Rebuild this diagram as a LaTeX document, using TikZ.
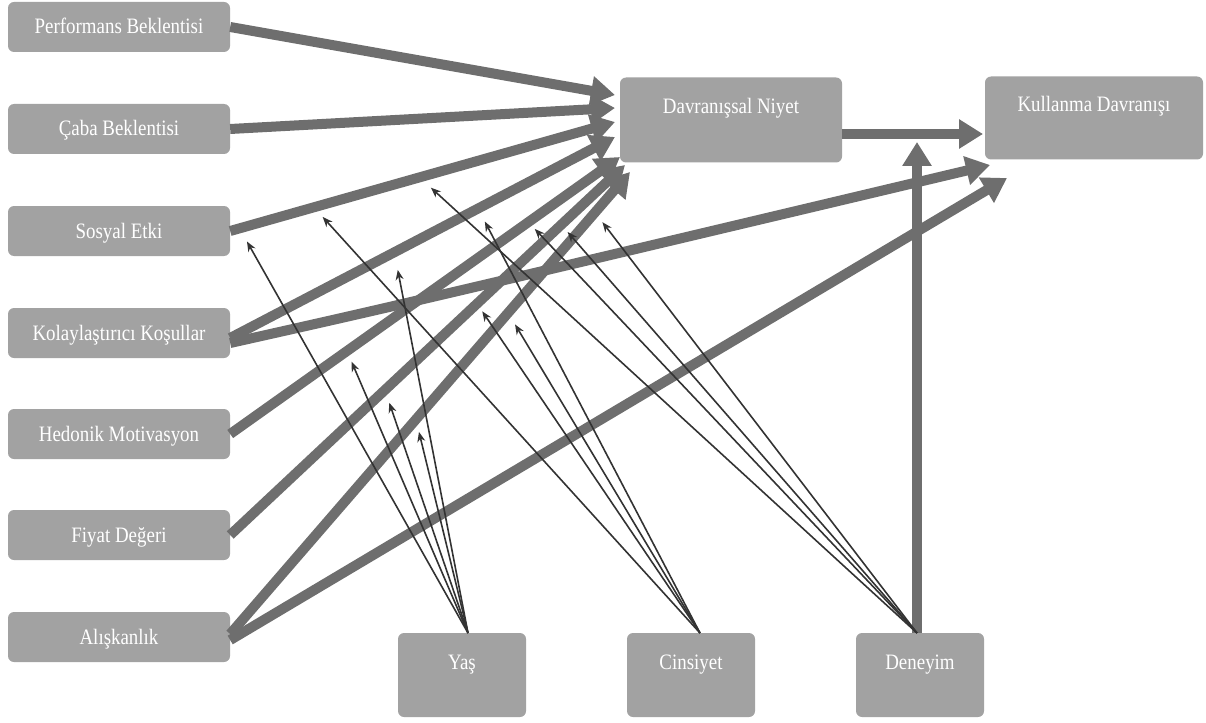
\documentclass[tikz,border=0pt]{standalone}
\usepackage{fontspec}
\newfontfamily\lab[FakeStretch=0.86]{Liberation Serif}
\usetikzlibrary{arrows.meta,calc}
\definecolor{boxgray}{HTML}{A2A2A2}
\definecolor{arrgray}{HTML}{6E6E6E}
\definecolor{thin}{HTML}{333333}
\begin{document}
\begin{tikzpicture}[x=1pt,y=-1pt,
  box/.style={draw=none,fill=boxgray,rounded corners=6pt,text=white,font=\lab\fontsize{22}{24}\selectfont,inner sep=0pt},
  lbox/.style={box,minimum width=222pt,minimum height=50pt,text height=15pt,text depth=1pt},
  hbox/.style={box,text height=15pt,text depth=27pt},
  bbox/.style={hbox,minimum width=128pt,minimum height=84pt},
  big/.style={draw=arrgray,line width=10pt,-{Triangle[length=24pt,width=28pt]},arrgray},
  mod/.style={draw=thin,line width=1.6pt,-{Stealth[length=10pt,width=8pt]},shorten >=4pt}]
\useasboundingbox (0,0) rectangle (1206,722);
% nodes
\node[lbox] (pb) at (119,27) {Performans Beklentisi};
\node[lbox] (cb) at (119,129) {Çaba Beklentisi};
\node[lbox] (se) at (119,231) {Sosyal Etki};
\node[lbox] (kk) at (119,333) {Kolaylaştırıcı Koşullar};
\node[lbox] (hm) at (119,434) {Hedonik Motivasyon};
\node[lbox] (fd) at (119,535) {Fiyat Değeri};
\node[lbox] (al) at (119,637) {Alışkanlık};
\node[hbox,minimum width=222pt,minimum height=85pt] (dn) at (731,120) {Davranışsal Niyet};
\node[hbox,minimum width=218pt,minimum height=83pt] (kd) at (1094,118) {Kullanma Davranışı};
\node[bbox] (yas) at (462,675) {Yaş};
\node[bbox] (cin) at (691,675) {Cinsiyet};
\node[bbox] (den) at (920,675) {Deneyim};
% tips
\coordinate (tpb) at (615,95);
\coordinate (tcb) at (615,108);
\coordinate (tse) at (615,122);
\coordinate (tkk) at (615,137);
\coordinate (thm) at (620,157);
\coordinate (tfd) at (625,165);
\coordinate (tal) at (630,172);
\coordinate (tkk2) at (990,165);
\coordinate (tal2) at (1007,178);
\coordinate (tden) at (917,142);
\coordinate (tdn) at (983,134);
% moderator sources
\coordinate (ys) at (468,633);
\coordinate (cs) at (700,633);
\coordinate (ds) at (917,633);
% thick arrows
\draw[big] (pb.east) -- (tpb);
\draw[big] (cb.east) -- (tcb);
\draw[big] (se.east) -- (tse);
\draw[big] ($(kk.east)+(0,5)$) -- (tkk);
\draw[big] ($(kk.east)+(0,10)$) .. controls (400,305) .. (tkk2);
\draw[big] (hm.east) -- (thm);
\draw[big] (fd.east) -- (tfd);
\draw[big] ($(al.east)+(0,-3)$) -- (tal);
\draw[big] ($(al.east)+(0,3)$) -- (tal2);
\draw[big] ($(dn.east)+(0,14)$) -- (tdn);
\draw[big] (ds) -- (tden);
% moderator points
\coordinate (m1) at (245,238);
\coordinate (m2) at (320,214);
\coordinate (m3) at (428,185);
\coordinate (m4) at (397,266);
\coordinate (m5) at (483,218);
\coordinate (m6) at (532,226);
\coordinate (m7) at (565,229);
\coordinate (m8) at (600,219);
\coordinate (m9) at (480,308);
\coordinate (m10) at (513,321);
\coordinate (m11) at (350,358);
\coordinate (m12) at (388,399);
\coordinate (m13) at (418,428);
% moderator arrows
\foreach \m in {m1,m4,m11,m12,m13} \draw[mod] (ys) -- (\m);
\foreach \m in {m2,m5,m9,m10} \draw[mod] (cs) -- (\m);
\foreach \m in {m3,m6,m7,m8} \draw[mod] (ds) -- (\m);
\end{tikzpicture}
\end{document}
